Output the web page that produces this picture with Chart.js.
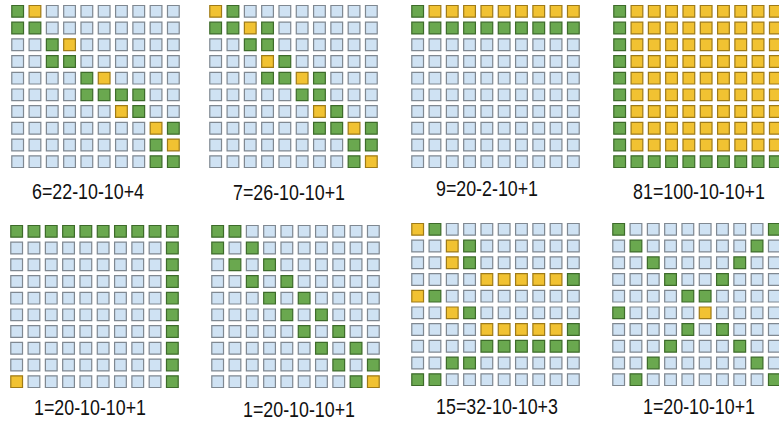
<!DOCTYPE html>
<html lang="en">
<head>
<meta charset="UTF-8">
<title>Grid patterns</title>
<style>
  html, body { margin: 0; padding: 0; background: #fff; overflow: hidden; }
  body { width: 779px; height: 423px; position: relative; }
  .grid { position: absolute; }
  .caption {
    position: absolute;
    font: 22px "Liberation Sans", Arial, sans-serif;
    line-height: 22px;
    white-space: nowrap;
    color: #111;
    transform: translateX(-50%) scaleX(0.81);
  }
</style>
</head>
<body>
<script src="https://cdn.jsdelivr.net/npm/chart.js@4.4.1/dist/chart.umd.min.js"></script>
<script>
// one caption per grid
var captions = [
  "6=22-10-10+4", "7=26-10-10+1", "9=20-2-10+1", "81=100-10-10+1",
  "1=20-10-10+1", "1=20-10-10+1", "15=32-10-10+3", "1=20-10-10+1"
];

// G = green, Y = yellow, . = blue, one string per row
var grid1 = [
  "GY........",
  "GG........",
  "..GY......",
  "..GG......",
  "....GY....",
  "....GGGG..",
  "......YG..",
  "........YG",
  "........GY",
  "........GG"
];
var grid2 = [
  "YG........",
  "GGYG......",
  "..GG......",
  "...YG.....",
  "...GGYG...",
  ".....GG...",
  "......YG..",
  "......GGYG",
  "........GG",
  "........GY"
];
var grid3 = [
  "GYYYYYYYYY",
  "GGGGGGGGGG",
  "..........",
  "..........",
  "..........",
  "..........",
  "..........",
  "..........",
  "..........",
  ".........."
];
var grid4 = [
  "GYYYYYYYYY",
  "GYYYYYYYYY",
  "GYYYYYYYYY",
  "GYYYYYYYYY",
  "GYYYYYYYYY",
  "GYYYYYYYYY",
  "GYYYYYYYYY",
  "GYYYYYYYYY",
  "GYYYYYYYYY",
  "GGGGGGGGGG"
];
var grid5 = [
  "GGGGGGGGGG",
  ".........G",
  ".........G",
  ".........G",
  ".........G",
  ".........G",
  ".........G",
  ".........G",
  ".........G",
  "Y........G"
];
var grid6 = [
  "GG........",
  "G.G.......",
  ".G.G......",
  "..G.G.....",
  "...G.G....",
  "....G.G...",
  ".....G.G..",
  "......G.G.",
  ".......G.G",
  "........GY"
];
var grid7 = [
  "YG........",
  "..YG......",
  "..YG......",
  "....YYYYYG",
  "YG........",
  "..YG......",
  "....YYYYYG",
  "....GGGGGG",
  "..GG......",
  "GG........"
];
var grid8 = [
  "G........G",
  ".G......G.",
  "..G....G..",
  "...G..G...",
  "....GG....",
  "G....Y....",
  "....G.G...",
  "...G...G..",
  "..G.....G.",
  ".G.......G"
];
var grids = [grid1, grid2, grid3, grid4, grid5, grid6, grid7, grid8];

// page layout (plot area corner of each grid, caption centre)
var gridLeft = [9, 207, 409, 611, 8, 209, 409, 610];
var gridTop = [3, 3, 3, 3, 223, 223, 221, 221];
var capX = [88, 289, 487, 699, 90, 299, 497, 699];
var capY = [192, 193, 189, 192, 408, 410, 407, 407];

var cellStyle = {
  ".": { fill: "#cfe2f3", border: "#7f8891" },
  "G": { fill: "#6aa84f", border: "#3d6b2a" },
  "Y": { fill: "#f1c232", border: "#9f7b17" }
};

function makeDatasets(rows) {
  var sets = {};
  Object.keys(cellStyle).forEach(function (k) { sets[k] = []; });
  rows.forEach(function (row, r) {
    for (var c = 0; c < row.length; c++) {
      sets[row[c]].push({ x: c, y: r });
    }
  });
  return Object.keys(sets).map(function (k) {
    return {
      data: sets[k],
      pointStyle: "rect",
      pointRadius: 8.3,
      pointBorderWidth: 1.2,
      pointBackgroundColor: cellStyle[k].fill,
      pointBorderColor: cellStyle[k].border,
      showLine: false,
      clip: false
    };
  });
}

grids.forEach(function (rows, i) {
  var canvas = document.createElement("canvas");
  canvas.className = "grid";
  canvas.width = 173;
  canvas.height = 167;
  canvas.style.left = gridLeft[i] + "px";
  canvas.style.top = gridTop[i] + "px";
  document.body.appendChild(canvas);

  new Chart(canvas, {
    type: "scatter",
    data: { datasets: makeDatasets(rows) },
    options: {
      responsive: false,
      animation: false,
      events: [],
      layout: { padding: 0, autoPadding: false },
      plugins: { legend: { display: false }, tooltip: { enabled: false } },
      scales: {
        x: { type: "linear", min: -0.5, max: 9.5, display: false },
        y: { type: "linear", min: -0.5, max: 9.5, reverse: true, display: false }
      }
    }
  });

  var cap = document.createElement("div");
  cap.className = "caption";
  cap.textContent = captions[i];
  cap.style.left = capX[i] + "px";
  cap.style.top = (capY[i] - 10.7) + "px";
  document.body.appendChild(cap);
});
</script>
</body>
</html>
